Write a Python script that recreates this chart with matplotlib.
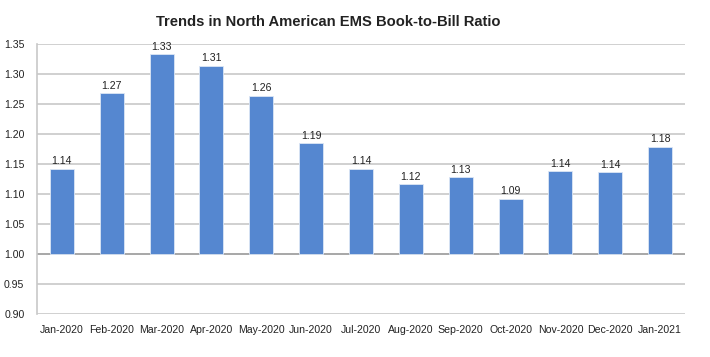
import matplotlib.pyplot as plt

months = ["Jan-2020", "Feb-2020", "Mar-2020", "Apr-2020", "May-2020", "Jun-2020",
          "Jul-2020", "Aug-2020", "Sep-2020", "Oct-2020", "Nov-2020", "Dec-2020", "Jan-2021"]
ratio = [1.142, 1.268, 1.333, 1.314, 1.264, 1.185, 1.142, 1.116, 1.128, 1.092, 1.138, 1.136, 1.179]
yticks = [0.90, 0.95, 1.00, 1.05, 1.10, 1.15, 1.20, 1.25, 1.30, 1.35]

plt.rcParams['font.family'] = ['Liberation Sans', 'DejaVu Sans']

fig = plt.figure(figsize=(7.1, 3.57), dpi=100)
ax = fig.add_axes([37 / 710, 1 - 314 / 357, 648 / 710, 270 / 357])

x = range(len(months))
ax.bar(x, [v - 1.0 for v in ratio], bottom=1.0, width=0.48, color='#5587D0',
       edgecolor='#DCE6F5', linewidth=0.6, zorder=3)
for i, v in enumerate(ratio):
    ax.text(i, v + 0.004, "{:.2f}".format(v), ha='center', va='bottom',
            fontsize=7.6, color='#222222', zorder=4)

ax.set_xlim(-0.5, len(months) - 0.5)
ax.set_ylim(0.90, 1.35)
ax.set_yticks(yticks)
ax.set_yticklabels(["{:.2f}".format(t) for t in yticks])
ax.set_xticks(list(x))
ax.set_xticklabels(months)
ax.tick_params(axis='both', length=0, labelsize=7.6, colors='#222222')
ax.tick_params(axis='x', pad=8)
ax.tick_params(axis='y', pad=9)

ax.grid(axis='y', color='#C8C8C8', linewidth=1.2, zorder=0)
ax.axhline(1.0, color='#A8A8A8', linewidth=1.4, zorder=2)
for s in ['top', 'right', 'bottom']:
    ax.spines[s].set_visible(False)
ax.spines['left'].set_color('#C8C8C8')
ax.spines['left'].set_linewidth(1.2)

fig.text(328 / 710, 1 - 22 / 357, "Trends in North American EMS Book-to-Bill Ratio",
         ha='center', va='center', fontsize=10.6, fontweight='bold', color='#222222')

fig.savefig("out.png", dpi=100)
